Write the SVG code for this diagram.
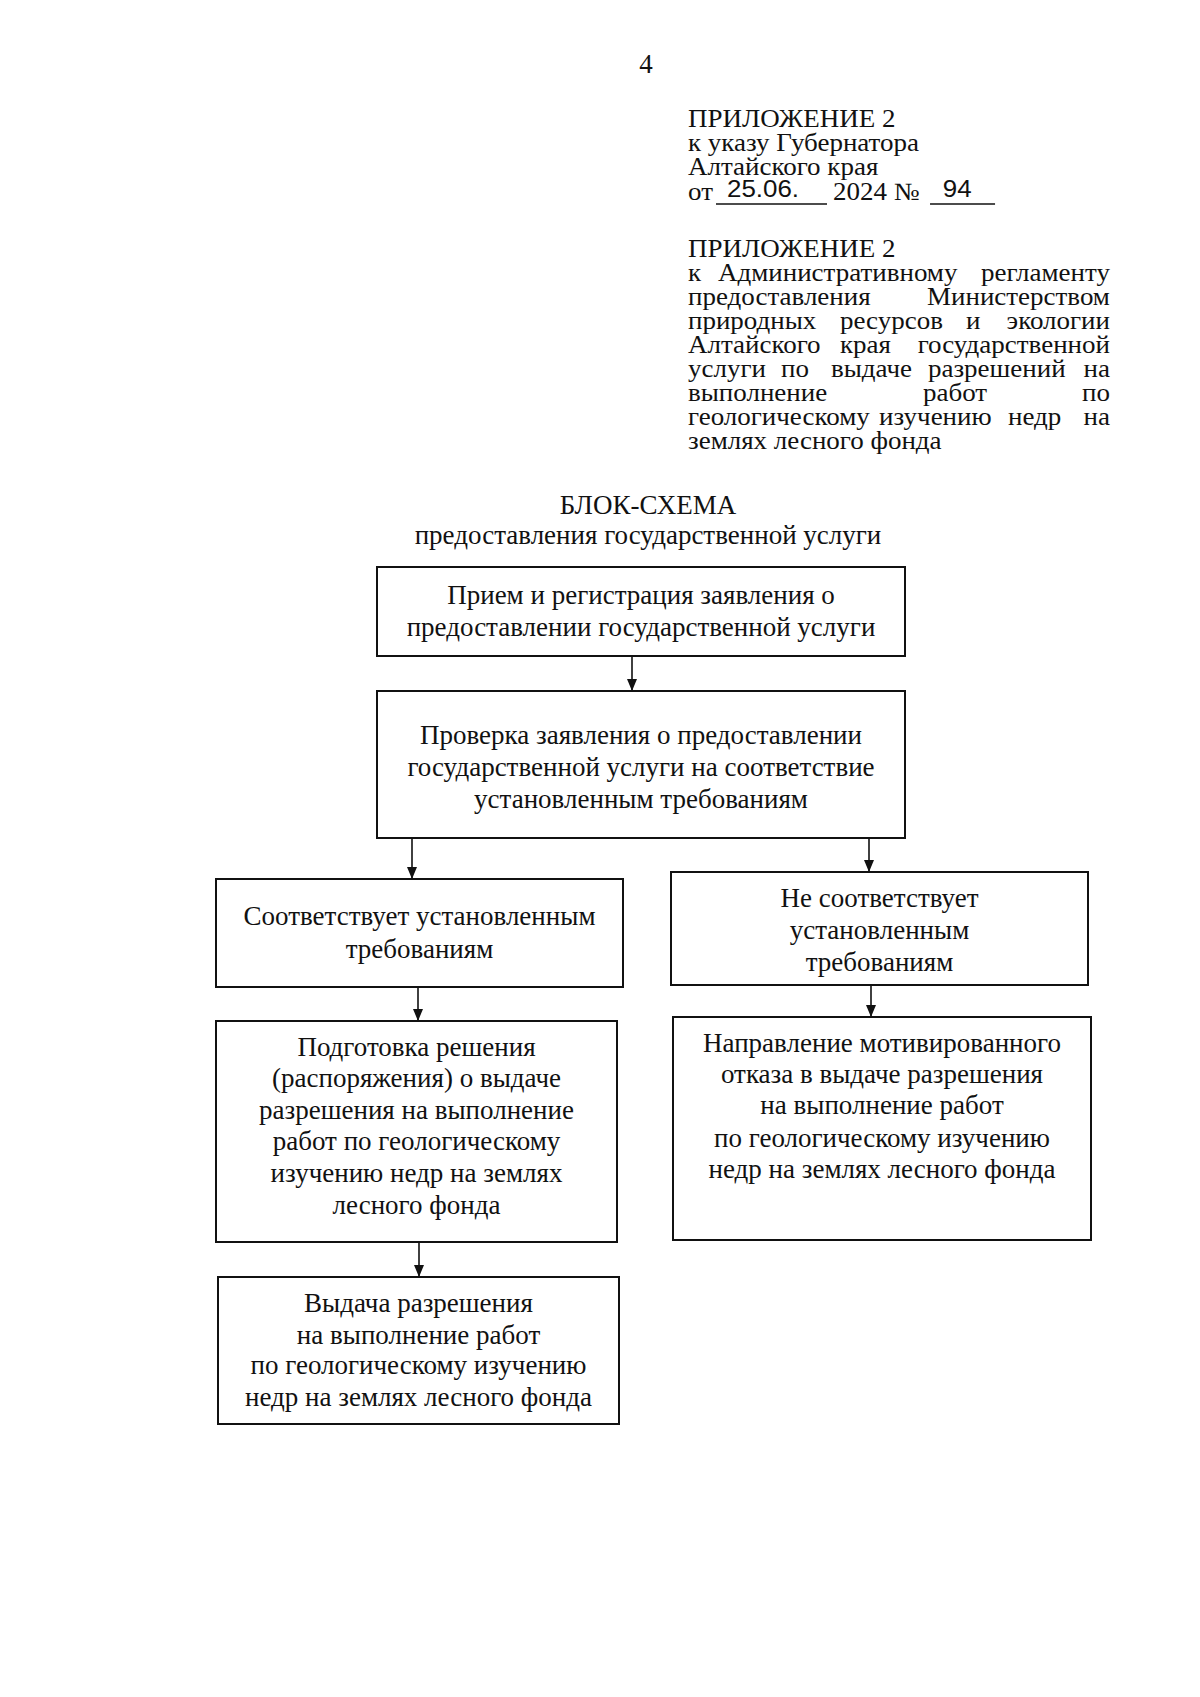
<svg xmlns="http://www.w3.org/2000/svg" width="1200" height="1697" viewBox="0 0 1200 1697">
<style>
  text { font-family: "Liberation Serif", "Times New Roman", serif; font-size: 27px; fill: #111; }
  .hdr text { font-size: 25px; }
  .c { text-anchor: middle; }
  .e { text-anchor: end; }
  .hdr text.hand { font-family: "Liberation Sans", Arial, sans-serif; font-size: 24px; }
  .box { fill: #fff; stroke: #111; stroke-width: 2; }
  .con { stroke: #111; stroke-width: 1.6; fill: none; marker-end: url(#arr); }
  .ul { stroke: #111; stroke-width: 1.5; }
</style>
<defs>
  <marker id="arr" viewBox="0 0 12 10" refX="12" refY="5" markerWidth="12" markerHeight="10" markerUnits="userSpaceOnUse" orient="auto">
    <path d="M0,0 L12,5 L0,10 z" fill="#111"/>
  </marker>
</defs>
<rect width="1200" height="1697" fill="#fff"/>

<g id="page-number"><text x="646" y="73" class="c">4</text></g>

<g id="header-decree" class="hdr" transform="matrix(1.08,0,0,1,-55.04,0)">
  <text x="688" y="127">ПРИЛОЖЕНИЕ 2</text>
  <text x="688" y="151">к указу Губернатора</text>
  <text x="688" y="175">Алтайского края</text>
  <text x="688" y="200">от</text>
  <line class="ul" x1="713.9" y1="204" x2="816.7" y2="204"/>
  <text x="724.1" y="197" class="hand">25.06.</text>
  <text x="822.3" y="200">2024 №</text>
  <line class="ul" x1="912.1" y1="204" x2="972.3" y2="204"/>
  <text x="924" y="197" class="hand">94</text>
</g>

<g id="header-regulation" class="hdr" transform="matrix(1.08,0,0,1,-55.04,0)">
  <text x="688" y="257">ПРИЛОЖЕНИЕ 2</text>
  <text x="688" y="281">к</text><text x="715.8" y="281">Административному</text><text x="1078.7" y="281" class="e">регламенту</text>
  <text x="688" y="305">предоставления</text><text x="1078.7" y="305" class="e">Министерством</text>
  <text x="688" y="329">природных</text><text x="828.7" y="329">ресурсов</text><text x="945.4" y="329">и</text><text x="1078.7" y="329" class="e">экологии</text>
  <text x="688" y="353">Алтайского</text><text x="828.7" y="353">края</text><text x="1078.7" y="353" class="e">государственной</text>
  <text x="688" y="377">услуги</text><text x="774.1" y="377">по</text><text x="820.4" y="377">выдаче</text><text x="910.2" y="377">разрешений</text><text x="1078.7" y="377" class="e">на</text>
  <text x="688" y="401">выполнение</text><text x="905.6" y="401">работ</text><text x="1078.7" y="401" class="e">по</text>
  <text x="688" y="425">геологическому</text><text x="864.9" y="425">изучению</text><text x="984.3" y="425">недр</text><text x="1078.7" y="425" class="e">на</text>
  <text x="688" y="449">землях лесного фонда</text>
</g>

<g id="title">
  <text x="648" y="514" class="c">БЛОК-СХЕМА</text>
  <text x="648" y="544" class="c">предоставления государственной услуги</text>
</g>

<g id="connectors">
  <line class="con" x1="632" y1="656" x2="632" y2="691"/>
  <line class="con" x1="412" y1="838" x2="412" y2="879"/>
  <line class="con" x1="869" y1="838" x2="869" y2="872"/>
  <line class="con" x1="418" y1="987" x2="418" y2="1021"/>
  <line class="con" x1="871" y1="985" x2="871" y2="1017"/>
  <line class="con" x1="419" y1="1242" x2="419" y2="1277"/>
</g>

<g id="n1-reception">
  <rect class="box" x="377" y="567" width="528" height="89"/>
  <text x="641" y="604" class="c">Прием и регистрация заявления о</text>
  <text x="641" y="636" class="c">предоставлении государственной услуги</text>
</g>

<g id="n2-check">
  <rect class="box" x="377" y="691" width="528" height="147"/>
  <text x="641" y="744" class="c">Проверка заявления о предоставлении</text>
  <text x="641" y="776" class="c">государственной услуги на соответствие</text>
  <text x="641" y="808" class="c">установленным требованиям</text>
</g>

<g id="n3-complies">
  <rect class="box" x="216" y="879" width="407" height="108"/>
  <text x="419.5" y="925" class="c">Соответствует установленным</text>
  <text x="419.5" y="958" class="c">требованиям</text>
</g>

<g id="n4-not-complies">
  <rect class="box" x="671" y="872" width="417" height="113"/>
  <text x="879.5" y="907" class="c">Не соответствует</text>
  <text x="879.5" y="939" class="c">установленным</text>
  <text x="879.5" y="971" class="c">требованиям</text>
</g>

<g id="n5-decision">
  <rect class="box" x="216" y="1021" width="401" height="221"/>
  <text x="416.5" y="1056" class="c">Подготовка решения</text>
  <text x="416.5" y="1087" class="c">(распоряжения) о выдаче</text>
  <text x="416.5" y="1119" class="c">разрешения на выполнение</text>
  <text x="416.5" y="1150" class="c">работ по геологическому</text>
  <text x="416.5" y="1182" class="c">изучению недр на землях</text>
  <text x="416.5" y="1214" class="c">лесного фонда</text>
</g>

<g id="n6-refusal">
  <rect class="box" x="673" y="1017" width="418" height="223"/>
  <text x="882" y="1052" class="c">Направление мотивированного</text>
  <text x="882" y="1083" class="c">отказа в выдаче разрешения</text>
  <text x="882" y="1114" class="c">на выполнение работ</text>
  <text x="882" y="1147" class="c">по геологическому изучению</text>
  <text x="882" y="1178" class="c">недр на землях лесного фонда</text>
</g>

<g id="n7-issue">
  <rect class="box" x="218" y="1277" width="401" height="147"/>
  <text x="418.5" y="1312" class="c">Выдача разрешения</text>
  <text x="418.5" y="1344" class="c">на выполнение работ</text>
  <text x="418.5" y="1374" class="c">по геологическому изучению</text>
  <text x="418.5" y="1406" class="c">недр на землях лесного фонда</text>
</g>
</svg>
